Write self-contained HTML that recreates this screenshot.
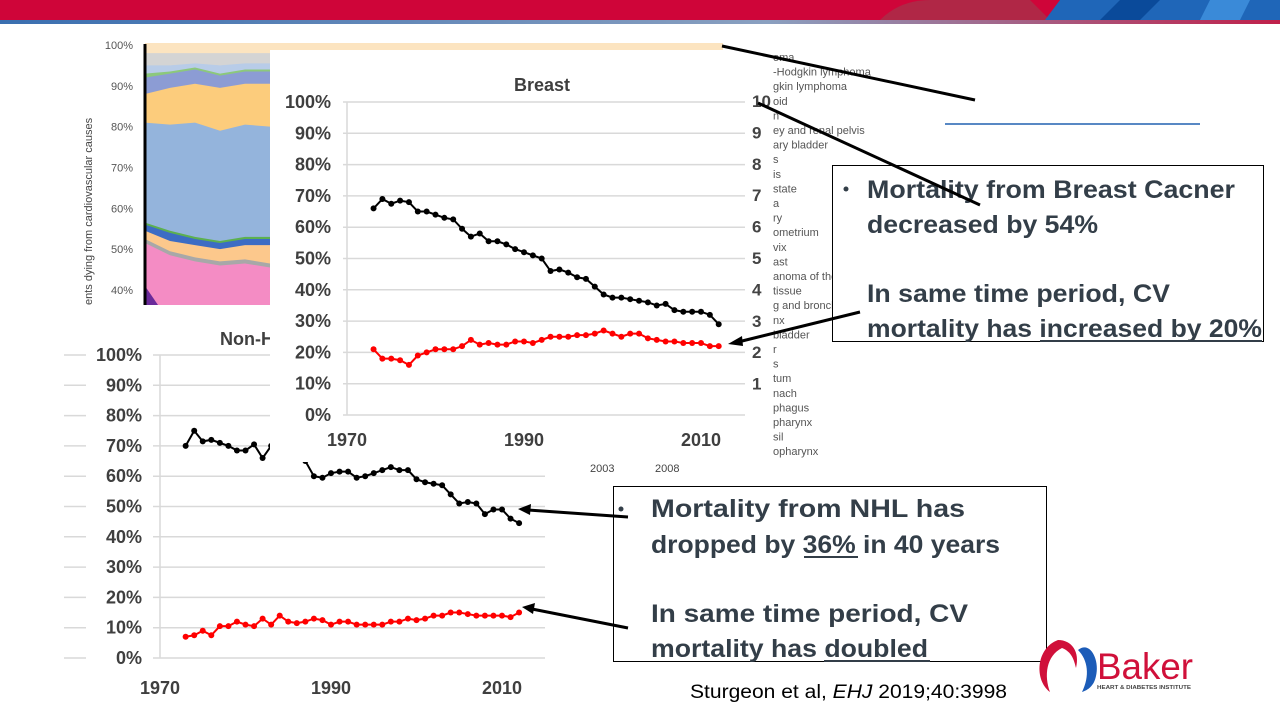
<!DOCTYPE html>
<html><head><meta charset="utf-8"><style>
html,body{margin:0;padding:0;background:#fff}
svg{display:block}
.tk{font-family:"Liberation Sans",Arial,sans-serif;font-weight:bold;font-size:18px;fill:#3f3f3f}
.lg{font-family:"Liberation Sans",Arial,sans-serif;font-size:11px;fill:#555}
.bt{font-family:"Liberation Sans Narrow","Liberation Sans",Arial,sans-serif;font-weight:bold;font-size:25px;fill:#333e48}
</style></head><body>
<svg id="s" width="1280" height="720" viewBox="0 0 1280 720" xmlns="http://www.w3.org/2000/svg">
<defs><linearGradient id="hg" x1="0" x2="1"><stop offset="0" stop-color="#3a6fb0"/><stop offset="0.6" stop-color="#8aa0c0"/><stop offset="1" stop-color="#c0204a"/></linearGradient></defs>
<g>
<rect x="0" y="0" width="1280" height="20" fill="#cf0539"/>
<rect x="0" y="20" width="1280" height="4" fill="url(#hg)"/>
<path d="M880 20 Q900 0 930 0 L1030 0 L1050 20 Z" fill="#a8304a" opacity="0.8"/>
<path d="M1045 20 L1060 0 L1280 0 L1280 20 Z" fill="#1f66b8"/>
<path d="M1100 20 L1120 0 L1160 0 L1140 20 Z" fill="#0a4a9a"/>
<path d="M1200 20 L1210 0 L1250 0 L1240 20 Z" fill="#3a8ad8"/>
</g>
<g id="stack"></g>
<g id="legend"></g>
<g id="nhl"></g>
<g id="breast"></g>
<g>
<rect x="832.5" y="165.5" width="431" height="176" fill="#fff" stroke="#000" stroke-width="1"/>
<circle cx="846" cy="189" r="2.5" fill="#333e48"/>
<text class="bt" x="867" y="198" textLength="368" lengthAdjust="spacingAndGlyphs">Mortality from Breast Cacner</text>
<text class="bt" x="867" y="233" textLength="231" lengthAdjust="spacingAndGlyphs">decreased by 54%</text>
<text class="bt" x="867" y="302" textLength="303" lengthAdjust="spacingAndGlyphs">In same time period, CV</text>
<text class="bt" x="867" y="337" textLength="395" lengthAdjust="spacingAndGlyphs">mortality has increased by 20%</text>
<line x1="1040" y1="341" x2="1262" y2="341" stroke="#333e48" stroke-width="2"/>
</g>
<g>
<rect x="613.5" y="486.5" width="433" height="175" fill="#fff" stroke="#000" stroke-width="1"/>
<circle cx="621" cy="509" r="2.5" fill="#333e48"/>
<text class="bt" x="651" y="517" textLength="314" lengthAdjust="spacingAndGlyphs">Mortality from NHL has</text>
<text class="bt" x="651" y="553" textLength="349" lengthAdjust="spacingAndGlyphs">dropped by 36% in 40 years</text>
<line x1="804" y1="557" x2="858" y2="557" stroke="#333e48" stroke-width="2"/>
<text class="bt" x="651" y="622" textLength="317" lengthAdjust="spacingAndGlyphs">In same time period, CV</text>
<text class="bt" x="651" y="657" textLength="277" lengthAdjust="spacingAndGlyphs">mortality has doubled</text>
<line x1="824" y1="661" x2="930" y2="661" stroke="#333e48" stroke-width="2"/>
</g>
<g stroke="#000" stroke-width="3">
<line x1="722" y1="46" x2="975" y2="100"/>
<line x1="758" y1="103" x2="980" y2="205"/>
<line x1="945" y1="124" x2="1200" y2="124" stroke="#2060b0" stroke-width="1.5"/>
<line x1="860" y1="312" x2="738" y2="342"/><path d="M728 344 L742 336 L743 346 Z" fill="#000" stroke="none"/>
<line x1="628" y1="517" x2="528" y2="510"/><path d="M518 509 L531 504 L530 515 Z" fill="#000" stroke="none"/>
<line x1="628" y1="628" x2="532" y2="609"/><path d="M522 607 L535 603 L533 614 Z" fill="#000" stroke="none"/>
</g>
<text x="690" y="698" font-family="Liberation Sans, Arial, sans-serif" font-size="19" fill="#000" textLength="317" lengthAdjust="spacingAndGlyphs">Sturgeon et al, <tspan font-style="italic">EHJ</tspan> 2019;40:3998</text>
<g>
<path d="M1058 640 C1036 648 1034 680 1050 692 C1044 676 1046 656 1062 648 C1072 652 1074 660 1076 668 C1080 652 1072 640 1058 640 Z" fill="#d0103a"/>
<path d="M1078 650 C1090 640 1100 660 1096 676 C1094 686 1088 690 1082 692 C1090 676 1088 660 1078 650 Z" fill="#1c5cb8"/>
<text x="1097" y="679" font-family="Liberation Sans, Arial, sans-serif" font-size="37" fill="#d0103a" textLength="96" lengthAdjust="spacingAndGlyphs">Baker</text>
<text x="1097" y="689" font-family="Liberation Sans, Arial, sans-serif" font-size="5" font-weight="bold" fill="#444" textLength="94" lengthAdjust="spacingAndGlyphs">HEART &amp; DIABETES INSTITUTE</text>
</g>
</svg>
<script>
const NS="http://www.w3.org/2000/svg";
// ---- data ----
const years=[1973,1974,1975,1976,1977,1978,1979,1980,1981,1982,1983,1984,1985,1986,1987,1988,1989,1990,1991,1992,1993,1994,1995,1996,1997,1998,1999,2000,2001,2002,2003,2004,2005,2006,2007,2008,2009,2010,2011,2012];
const breastCancer=[66,69,67.5,68.5,68,65,65,64,63,62.5,59.5,57,58,55.5,55.5,54.5,53,52,51,50,46,46.5,45.5,44,43.5,41,38.5,37.5,37.5,37,36.5,36,35,35.5,33.5,33,33,33,32,29];
const breastCV=[21,18,18,17.5,16,19,20,21,21,21,22,24,22.5,23,22.5,22.5,23.5,23.5,23,24,25,25,25,25.5,25.5,26,27,26,25,26,26,24.5,24,23.5,23.5,23,23,23,22,22];
const nhlCancer=[70,75,71.5,72,71,70,68.5,68.5,70.5,66,70,69,67,66,65,60,59.5,61,61.5,61.5,59.5,60,61,62,63,62,62,59,58,57.5,57,54,51,51.5,51,47.5,49,49,46,44.5];
const nhlCV=[7,7.5,9,7.5,10.5,10.5,12,11,10.5,13,11,14,12,11.5,12,13,12.5,11,12,12,11,11,11,11,12,12,13,12.5,13,14,14,15,15,14.5,14,14,14,14,13.5,15];
const pctTicks=[0,10,20,30,40,50,60,70,80,90,100];
const yearTicks=[1970,1990,2010];
const stackX=[0,1,2,3,4,5];
const stackTops=[
 [51.5,48.5,47,46,46.5,45.5],[52.5,49.5,48,47,47.5,46.5],[54.5,52,51,50,51,51],[56,54,52.5,51.5,52.5,52.5],
 [56.5,54.5,53,52,53,53],[81,80.5,81,79,80.5,80],[88,89.5,90.5,89.5,90.5,90.5],[92,93,94,92.5,93.5,93.5],
 [93,93.5,94.5,93,94,94],[95,95,95.5,95,95.5,95.5],[98,98,98,98,98,98],[100,100,100,100,100,100]];
const stackColors=["#f48cc4","#a8a8a8","#fcc88c","#3c6cc4","#5cb050","#94b4dc","#fccc7c","#8c9cd4","#8cc87c","#b8cce8","#d4d4d4","#fce4c0"];
const legendLabels=["oma","-Hodgkin lymphoma","gkin lymphoma","oid","n","ey and renal pelvis","ary bladder","s","is","state","a","ry","ometrium","vix","ast","anoma of the skin","tissue","g and bronchus","nx","bladder","r","s","tum","nach","phagus","pharynx","sil","opharynx"];
const rightNums=[10,9,8,7,6,5,4,3,2,1];

function el(tag,attrs,parent){const e=document.createElementNS(NS,tag);for(const k in attrs)e.setAttribute(k,attrs[k]);parent.appendChild(e);return e;}

(function(){
 const g=document.getElementById('stack');
 const sx=i=>145+i*25, sy=v=>45+(100-v)*4.083;
 const base=36;
 for(let L=stackTops.length-1;L>=0;L--){
  let d="M"+sx(0)+" "+sy(base);
  stackX.forEach(i=>{d+=" L"+sx(i)+" "+sy(stackTops[L][i]);});
  d+=" L"+sx(5)+" "+sy(base)+" Z";
  const p=el('path',{d:d,fill:stackColors[L]},g);
  
  
 }
 const tri=el('path',{d:"M145 286 L158 305 L145 305 Z",fill:"#6a2a9a"},g);
 
 
 const strip=el('rect',{x:145,y:43,width:578,height:7,fill:"#fce4c0"},g);
 
 
 el('line',{x1:145,y1:44,x2:145,y2:305,stroke:"#000","stroke-width":3},g);
 [100,90,80,70,60,50,40].forEach(v=>{
  const t=el('text',{x:133,y:sy(v)+4,"text-anchor":"end","font-family":"Liberation Sans, Arial, sans-serif","font-size":"11",fill:"#555"},g);
  t.textContent=v+"%";
  
  
 });
 const yt=el('text',{x:0,y:0,transform:"translate(92,305) rotate(-90)","font-family":"Liberation Sans, Arial, sans-serif","font-size":"11",fill:"#444"},g);
 yt.textContent="ents dying from cardiovascular causes";
 
 
})();

(function(){
 const g=document.getElementById('legend');
 legendLabels.forEach((s,i)=>{
  const t=el('text',{x:773,y:61+i*14.6},g);
  t.setAttribute('class','lg');
  t.textContent=s;
  
  
 });
 rightNums.forEach((n,i)=>{
  const t=el('text',{x:752,y:107+i*31.4,"font-family":"Liberation Sans, Arial, sans-serif","font-size":"17","font-weight":"bold",fill:"#444"},g);
  t.textContent=n;
  
  
 });
 [["2003",590],["2008",655]].forEach(a=>{
  const t=el('text',{x:a[1],y:472,"font-family":"Liberation Sans, Arial, sans-serif","font-size":"11",fill:"#444"},g);
  t.textContent=a[0];
  
  
 });
})();

function drawChart(g,o){
 const X=y=>o.x0+(y-1970)*o.px, Y=v=>o.y0-v*o.py;
 const bg=el('rect',{x:o.bx,y:o.by,width:o.bw,height:o.bh,fill:"#fff"},g);
 
 
 pctTicks.forEach(v=>{
  const l=el('line',{x1:o.gx0,y1:Y(v),x2:o.gx1,y2:Y(v),stroke:"#d9d9d9","stroke-width":1.5},g);
  
  
  if(o.extra){el('line',{x1:64,y1:Y(v),x2:86,y2:Y(v),stroke:"#d9d9d9","stroke-width":1.5},g);}
  const t=el('text',{x:o.lx,y:Y(v)+6,"text-anchor":"end"},g);
  t.setAttribute('class','tk');
  t.textContent=v+"%";
  
  
 });
 el('line',{x1:X(1970),y1:Y(100),x2:X(1970),y2:Y(0),stroke:"#d9d9d9","stroke-width":1.5},g);
 yearTicks.forEach(yr=>{
  const t=el('text',{x:X(yr),y:o.xly,"text-anchor":"middle"},g);
  t.setAttribute('class','tk');
  t.textContent=yr;
  
  
 });
 [[o.a,"#000"],[o.b,"#f00"]].forEach(([arr,c],si)=>{
  const pl=el('polyline',{points:arr.map((v,i)=>X(years[i])+","+Y(v)).join(" "),fill:"none",stroke:c,"stroke-width":2},g);
  
  
  arr.forEach((v,i)=>{
   const m=el('circle',{cx:X(years[i]),cy:Y(v),r:3,fill:c},g);
   
   
  });
 });
 const tt=el('text',{x:o.tx,y:o.ty,"text-anchor":"start","font-size":"19"},g);
 tt.setAttribute('class','tk');
 tt.textContent=o.title;
 
 
}
drawChart(document.getElementById('nhl'),{x0:160,px:8.55,y0:658,py:3.03,bx:60,by:305,bw:500,bh:400,gx0:153,gx1:545,lx:142,xly:694,a:nhlCancer,b:nhlCV,title:"Non-Hodgkin lymphoma",tx:220,ty:345,extra:true});
drawChart(document.getElementById('breast'),{x0:347,px:8.85,y0:415,py:3.13,bx:270,by:50,bw:482,bh:412,gx0:343,gx1:745,lx:331,xly:446,a:breastCancer,b:breastCV,title:"Breast",tx:514,ty:91});
</script>
</body></html>
